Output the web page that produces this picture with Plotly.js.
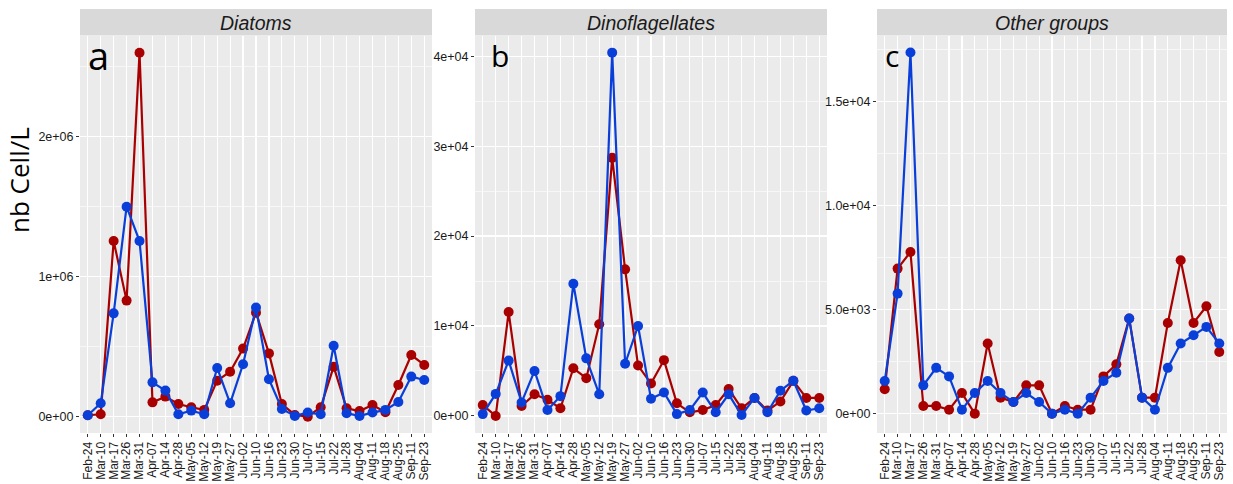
<!DOCTYPE html>
<html>
<head>
<meta charset="utf-8">
<script src="https://cdn.plot.ly/plotly-3.0.1.min.js"></script>
<style>html,body{margin:0;padding:0;background:#fff;}#chart{width:1233px;height:484px;}</style>
</head>
<body>
<div id="chart"></div>
<script>
const dates = ["Feb-24","Mar-10","Mar-17","Mar-26","Mar-31","Apr-07","Apr-14","Apr-28","May-05","May-12","May-19","May-27","Jun-02","Jun-10","Jun-16","Jun-23","Jun-30","Jul-07","Jul-15","Jul-22","Jul-28","Aug-04","Aug-11","Aug-18","Aug-25","Sep-11","Sep-23"];

const diatomsRed  = [10000,17000,1255000,829000,2600000,102000,143000,90000,67000,48000,257000,321000,486000,743000,452000,90000,12000,0,67000,357000,60000,40000,83000,31000,226000,440000,369000];
const diatomsBlue = [10000,95000,738000,1500000,1255000,245000,186000,17000,43000,17000,348000,95000,374000,779000,267000,55000,5000,29000,17000,507000,24000,5000,29000,48000,105000,286000,262000];

const dinoRed  = [1200,0,11550,1100,2400,1800,850,5300,4200,10200,28700,16300,5600,3600,6200,1400,400,650,1200,3000,850,2000,600,1600,3900,2000,2000];
const dinoBlue = [200,2450,6150,1500,5000,650,2200,14700,6400,2400,40400,5800,10000,1900,2600,200,650,2600,400,2400,100,2000,400,2800,3900,600,850];

const otherRed  = [1170,6970,7770,370,370,190,990,0,3370,770,560,1360,1360,0,370,190,190,1790,2370,4570,770,770,4360,7370,4360,5160,2960];
const otherBlue = [1570,5770,17360,1360,2200,1790,190,990,1570,990,560,990,560,0,190,0,770,1570,1970,4570,770,190,2200,3370,3770,4170,3370];

const panelTitles = ["Diatoms","Dinoflagellates","Other groups"];
const panelLetters = ["a","b","c"];
const yTickVals = [[0,1000000,2000000],[0,10000,20000,30000,40000],[0,5000,10000,15000]];
const yTickText = [["0e+00","1e+06","2e+06"],["0e+00","1e+04","2e+04","3e+04","4e+04"],["0e+00","5.0e+03","1.0e+04","1.5e+04"]];

const RED = "#A80000", BLUE = "#0A3ED8";
const W = 1233, H = 484;
const xPix = [[80,432],[475,827],[877,1227]];
const yTopPix = 36, yBotPix = 433;
const yRanges = [[-117000,2720000],[-1900,42250],[-930,18150]];
const minorD = [500000,5000,2500];

const series = [[diatomsRed,diatomsBlue],[dinoRed,dinoBlue],[otherRed,otherBlue]];
const traces = [];
const layout = {
  width: W, height: H,
  margin: {l:0,r:0,t:0,b:0},
  paper_bgcolor: "#ffffff",
  showlegend: false,
  font: {family: "Liberation Sans, Arial, sans-serif", color: "#1a1a1a"},
  shapes: [], annotations: []
};

series.forEach((pair, i) => {
  const xa = i === 0 ? "x" : "x" + (i+1);
  const ya = i === 0 ? "y" : "y" + (i+1);
  [[pair[0], RED],[pair[1], BLUE]].forEach(([vals, col]) => {
    traces.push({
      type: "scatter", mode: "lines+markers",
      x: dates, y: vals, xaxis: xa, yaxis: ya,
      line: {color: col, width: 2.2},
      marker: {color: col, size: 10},
      hoverinfo: "x+y"
    });
  });
  const xk = i === 0 ? "xaxis" : "xaxis" + (i+1);
  const yk = i === 0 ? "yaxis" : "yaxis" + (i+1);
  const d = [xPix[i][0]/W, xPix[i][1]/W];
  layout[xk] = {
    domain: d, anchor: ya, type: "category",
    categoryorder: "array", categoryarray: dates,
    tickmode: "array", tickvals: dates, ticktext: dates,
    range: [-0.6, dates.length - 0.4],
    tickangle: -90, tickfont: {size: 12, color: "#1a1a1a"},
    showgrid: true, gridcolor: "#ffffff", gridwidth: 1.2,
    ticks: "outside", ticklen: 3, tickcolor: "#333333", tickwidth: 1,
    showline: false, zeroline: false, automargin: false, fixedrange: true
  };
  layout[yk] = {
    domain: [1 - yBotPix/H, 1 - yTopPix/H], anchor: xa,
    range: yRanges[i],
    tickvals: yTickVals[i], ticktext: yTickText[i],
    tickfont: {size: 12.5, color: "#1a1a1a"},
    showgrid: true, gridcolor: "#ffffff", gridwidth: 1.2,
    minor: {dtick: minorD[i], tick0: 0, showgrid: true, gridcolor: "#ffffff", gridwidth: 0.6},
    ticks: "outside", ticklen: 3, tickcolor: "#333333", tickwidth: 1,
    showline: false, zeroline: false, automargin: false, fixedrange: true
  };
  layout.shapes.push({
    type: "rect", xref: "paper", yref: "paper", layer: "below",
    x0: d[0], x1: d[1], y0: 1 - yBotPix/H, y1: 1 - yTopPix/H,
    fillcolor: "#EBEBEB", line: {width: 0}
  });
  layout.shapes.push({
    type: "rect", xref: "paper", yref: "paper",
    x0: d[0], x1: d[1], y0: 1 - 35.5/H, y1: 1 - 9/H,
    fillcolor: "#D9D9D9", line: {width: 0}
  });
  layout.annotations.push({
    xref: "paper", yref: "paper", x: (d[0]+d[1])/2, y: 1 - 22.5/H,
    xanchor: "center", yanchor: "middle", showarrow: false,
    text: "<i>" + panelTitles[i] + "</i>",
    font: {size: 19.5, color: "#1a1a1a", family: "Liberation Sans, Arial, sans-serif"}
  });
});

const letterSizes = [38, 30, 30];
const letterX = [86, 489, 883];
panelLetters.forEach((t, i) => {
  layout.annotations.push({
    xref: "paper", yref: "paper", x: letterX[i]/W, y: 1 - 55/H,
    xanchor: "left", yanchor: "middle", showarrow: false,
    text: t, font: {size: letterSizes[i], color: "#000000", family: "Open Sans, sans-serif"}
  });
});

layout.annotations.push({
  xref: "paper", yref: "paper", x: 19/W, y: 1 - 180/H,
  xanchor: "center", yanchor: "middle", showarrow: false, textangle: -90,
  text: "nb Cell/L", font: {size: 26, color: "#000000", family: "Open Sans, sans-serif"}
});

Plotly.newPlot("chart", traces, layout, {displayModeBar: false, staticPlot: true});
</script>
</body>
</html>
